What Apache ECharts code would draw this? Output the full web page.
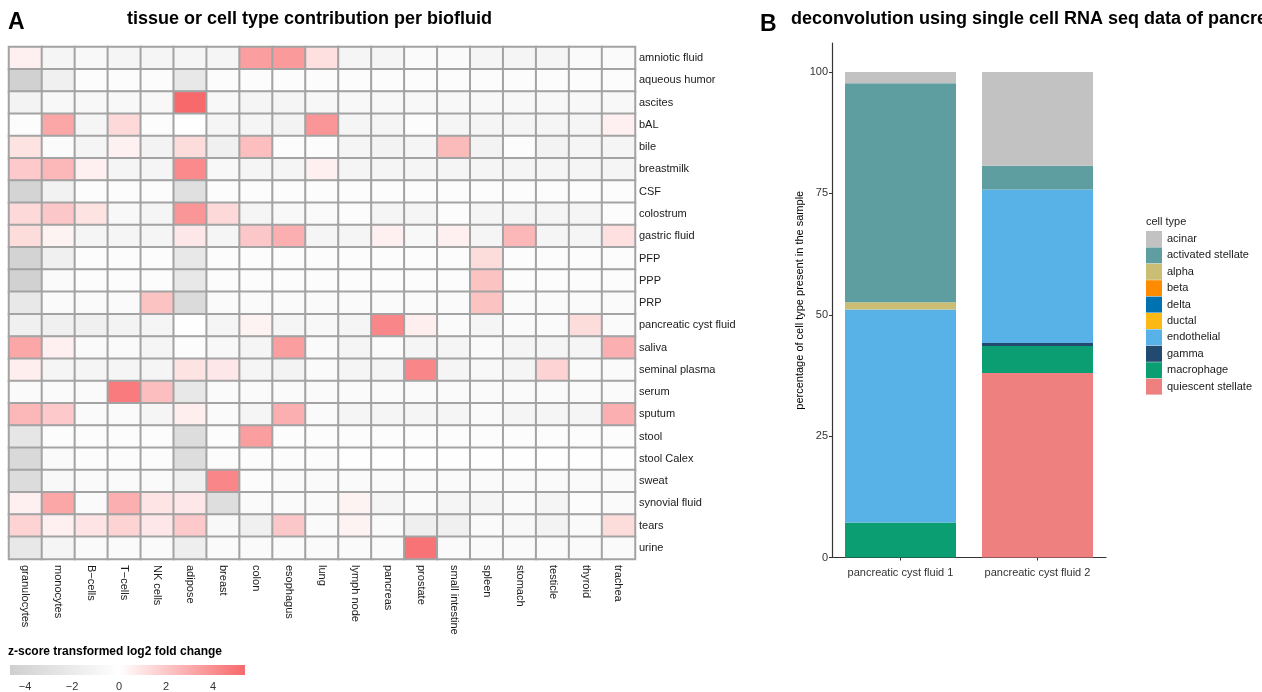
<!DOCTYPE html>
<html>
<head>
<meta charset="utf-8">
<script src="https://cdn.jsdelivr.net/npm/echarts@6/dist/echarts.min.js"></script>
<style>
  html, body { margin: 0; padding: 0; background: #fff; }
  #chart { width: 1262px; height: 692px; }
</style>
</head>
<body>
<div id="chart"></div>
<script>
// ---- Panel A: heatmap data ----
const tissues = ['granulocytes', 'monocytes', 'B\u2212cells', 'T\u2212cells', 'NK cells', 'adipose', 'breast', 'colon',
  'esophagus', 'lung', 'lymph node', 'pancreas', 'prostate', 'small intestine', 'spleen', 'stomach', 'testicle',
  'thyroid', 'trachea'];

const biofluids = ['amniotic fluid', 'aqueous humor', 'ascites', 'bAL', 'bile', 'breastmilk', 'CSF', 'colostrum',
  'gastric fluid', 'PFP', 'PPP', 'PRP', 'pancreatic cyst fluid', 'saliva', 'seminal plasma', 'serum', 'sputum',
  'stool', 'stool Calex', 'sweat', 'synovial fluid', 'tears', 'urine'];

// one row per biofluid, one value per tissue (z-score of log2 fold change)
const zScores = [
  [0.55, -0.95, -0.66, -0.95, -0.95, -0.95, -0.95, 3.45, 3.6, 1.13, -0.95, -0.95, -0.47, -0.47, -0.95, -0.95, -0.95, -0.47, -0.47],
  [-4.45, -1.5, -0.28, -0.28, -0.28, -2.18, -0.28, -0.28, -0.28, -0.28, -0.28, -0.28, -0.28, -0.28, -0.28, -0.28, -0.28, -0.28, -0.28],
  [-1.2, -0.66, -0.66, -0.66, -0.66, 5.38, -0.66, -0.95, -0.95, -0.8, -0.66, -0.66, -0.66, -0.66, -0.66, -0.66, -0.66, -0.66, -0.66],
  [-0.28, 3.16, -0.95, 1.38, -0.28, -0.1, -0.95, -0.95, -1.14, 3.75, -0.95, -0.95, -0.28, -0.95, -0.95, -0.95, -0.95, -0.95, 0.55],
  [1.0, -0.4, -0.95, 0.5, -1.14, 1.27, -1.42, 2.3, -0.28, -0.28, -0.95, -1.2, -0.95, 2.44, -1.14, -0.28, -1.14, -0.95, -0.95],
  [1.93, 2.58, 0.55, -0.95, -0.95, 4.18, -0.66, -0.95, -0.95, 0.55, -0.95, -0.95, -0.95, -0.95, -0.95, -0.95, -0.95, -0.95, -0.95],
  [-4.2, -1.3, -0.28, -0.28, -0.28, -3.0, -0.28, -0.28, -0.28, -0.28, -0.28, -0.28, -0.28, -0.28, -0.28, -0.28, -0.28, -0.28, -0.28],
  [1.38, 2.0, 1.0, -0.66, -0.95, 3.75, 1.38, -0.95, -0.66, -0.5, -0.28, -0.95, -0.95, -0.28, -0.95, -0.95, -0.95, -0.95, -0.28],
  [1.27, 0.44, -0.95, -0.95, -0.95, 0.84, -0.95, 2.0, 2.87, -0.95, -0.95, 0.55, -0.66, 0.55, -0.95, 2.58, -0.95, -0.95, 1.13],
  [-4.3, -1.42, -0.28, -0.28, -0.28, -2.18, -0.28, -0.28, -0.28, -0.28, -0.28, -0.28, -0.28, -0.28, 1.27, -0.28, -0.28, -0.28, -0.28],
  [-4.45, -0.47, -0.28, -0.28, -0.28, -2.18, -0.28, -0.28, -0.28, -0.28, -0.28, -0.28, -0.28, -0.28, 2.15, -0.28, -0.28, -0.28, -0.28],
  [-2.18, -0.47, -0.47, -0.47, 2.15, -3.5, -0.47, -0.47, -0.47, -0.47, -0.47, -0.47, -0.47, -0.47, 2.15, -0.47, -0.47, -0.47, -0.47],
  [-1.5, -1.42, -1.5, -1.14, -0.95, -0.1, -0.95, 0.44, -0.95, -0.66, -0.95, 4.33, 0.62, -0.47, -0.95, -0.47, -0.47, 1.27, -0.47],
  [3.16, 0.55, -0.47, -0.47, -0.95, -0.28, -0.66, -0.95, 3.45, -0.47, -0.95, -0.47, -0.95, -0.95, -0.47, -0.95, -0.95, -0.95, 2.87],
  [0.62, -0.95, -0.95, -0.95, -0.95, 1.0, 0.84, -0.95, -1.14, -0.47, -0.95, -0.95, 4.33, -0.95, -0.66, -0.95, 1.56, -0.47, -0.47],
  [-0.47, -0.47, -0.47, 4.73, 2.3, -2.18, -0.47, -0.47, -0.47, -0.47, -0.47, -0.47, -0.47, -0.47, -0.47, -0.47, -0.47, -0.47, -0.47],
  [2.58, 1.93, -0.47, -0.47, -0.95, 0.62, -0.47, -0.95, 2.87, -0.47, -0.95, -0.95, -0.95, -0.95, -0.47, -0.95, -0.95, -0.95, 2.87],
  [-2.46, -0.28, -0.28, -0.28, -0.28, -3.3, -0.28, 3.45, -0.28, -0.28, -0.28, -0.28, -0.28, -0.28, -0.28, -0.28, -0.28, -0.28, -0.28],
  [-3.7, -0.47, -0.28, -0.28, -0.28, -3.3, -0.28, -0.28, -0.28, -0.28, -0.15, -0.15, -0.15, -0.15, -0.15, -0.15, -0.15, -0.15, -0.15],
  [-3.4, -0.66, -0.47, -0.47, -0.47, -1.5, 4.33, -0.28, -0.47, -0.47, -0.47, -0.47, -0.47, -0.47, -0.47, -0.47, -0.47, -0.47, -0.47],
  [0.55, 3.16, -0.47, 2.87, 0.95, 0.84, -3.2, -0.47, -0.47, -0.47, 0.44, -0.95, -0.47, -0.95, -0.95, -0.47, -0.95, -0.28, -0.47],
  [1.56, 0.55, 0.95, 1.56, 0.84, 1.93, -0.66, -1.42, 2.0, -0.47, 0.44, -0.47, -1.6, -1.42, -0.47, -0.66, -1.2, -0.47, 1.27],
  [-2.18, -0.95, -0.47, -0.47, -0.47, -1.7, -0.47, -0.47, -0.47, -0.47, -0.47, -0.47, 5.0, -0.47, -0.47, -0.47, -0.47, -0.47, -0.47]
];

// ---- Panel B: stacked deconvolution bars ----
const samples = ['pancreatic cyst fluid 1', 'pancreatic cyst fluid 2'];
const cellTypes = ['acinar', 'activated stellate', 'alpha', 'beta', 'delta', 'ductal', 'endothelial', 'gamma',
  'macrophage', 'quiescent stellate'];
// percentage per cell type, one value per sample (same order as cellTypes)
const cellPercentages = [
  [2.3, 19.3],
  [45.1, 4.9],
  [1.5, 0],
  [0, 0],
  [0, 0],
  [0, 0],
  [43.9, 31.6],
  [0, 0.6],
  [7.2, 5.6],
  [0, 38.0]
];
const percentTicks = [0, 25, 50, 75, 100];

// ---- styling ----
const FONT = '"Liberation Sans", Arial, Helvetica, sans-serif';
const cellColors = ['#C2C2C2', '#5F9EA0', '#CBBE74', '#FF8C00', '#0072B2', '#FDB913', '#58B2E8', '#224A70',
  '#0B9E73', '#EF8080'];

// diverging scale: grey (low) -> white (0) -> red (high)
const zMin = -4.64, zMax = 5.36;
const lowRGB = [207, 207, 207], midRGB = [255, 255, 255], highRGB = [248, 105, 107];
function mix(a, b, t) {
  return 'rgb(' + a.map((c, i) => Math.round(c + (b[i] - c) * t)).join(',') + ')';
}
function zColor(v) {
  if (v < 0) return mix(midRGB, lowRGB, Math.min(1, v / zMin));
  return mix(midRGB, highRGB, Math.min(1, v / zMax));
}
const scaleColors = [];
for (let i = 0; i <= 200; i++) scaleColors.push(zColor(zMin + (zMax - zMin) * i / 200));
const zeroPos = -zMin / (zMax - zMin);

const heatData = [];
zScores.forEach((row, r) => row.forEach((v, c) => heatData.push([c, r, v])));

const barSeries = [];
// stack bottom-up: last cell type at the bottom
for (let i = cellTypes.length - 1; i >= 0; i--) {
  barSeries.push({
    name: cellTypes[i],
    type: 'bar',
    stack: 'total',
    xAxisIndex: 1,
    yAxisIndex: 1,
    barWidth: 111,
    itemStyle: { color: cellColors[i] },
    emphasis: { disabled: true },
    data: cellPercentages[i]
  });
}

const chart = echarts.init(document.getElementById('chart'), null, { renderer: 'canvas' });

const titleStyle = (size, weight) => ({ fontFamily: FONT, fontSize: size, fontWeight: weight, color: '#000' });

chart.setOption({
  backgroundColor: '#ffffff',
  animation: false,
  textStyle: { fontFamily: FONT },
  title: [
    { text: 'A', left: 8, top: 11, padding: 0, textStyle: titleStyle(23, 'bold') },
    { text: 'tissue or cell type contribution per biofluid', left: 127, top: 10, padding: 0,
      textStyle: titleStyle(18, 'bold') },
    { text: 'B', left: 760, top: 13, padding: 0, textStyle: titleStyle(23, 'bold') },
    { text: 'deconvolution using single cell RNA seq data of pancreas', left: 791, top: 10, padding: 0,
      textStyle: titleStyle(18, 'bold') },
    { text: 'z-score transformed log2 fold change', left: 8, top: 646, padding: 0,
      textStyle: titleStyle(12, 'bold') },
    { text: 'cell type', left: 1146, top: 216, padding: 0,
      textStyle: { fontFamily: FONT, fontSize: 11, fontWeight: 'normal', color: '#1a1a1a' } }
  ],
  grid: [
    { left: 9, top: 47, width: 626, height: 512 },
    { left: 832, top: 43, width: 274, height: 514.5 },
    { left: 25, top: 665, width: 188, height: 16 }
  ],
  xAxis: [
    {
      type: 'category', gridIndex: 0, data: tissues, position: 'bottom',
      axisLine: { show: false }, axisTick: { show: false }, splitLine: { show: false },
      axisLabel: { rotate: -90, margin: 6, fontSize: 11, color: '#1a1a1a', fontFamily: FONT, interval: 0 }
    },
    {
      type: 'category', gridIndex: 1, data: samples,
      axisLine: { show: true, lineStyle: { color: '#333', width: 1.2 } },
      axisTick: { show: true, alignWithLabel: true, length: 3, lineStyle: { color: '#333' } },
      axisLabel: { margin: 10, fontSize: 11, color: '#333', fontFamily: FONT, interval: 0, hideOverlap: false }
    },
    {
      type: 'value', gridIndex: 2, min: -4, max: 4, interval: 2,
      axisLine: { show: false }, axisTick: { show: false }, splitLine: { show: false },
      axisLabel: {
        margin: 6, fontSize: 11, color: '#333', fontFamily: FONT,
        formatter: v => (v < 0 ? '\u2212' + Math.abs(v) : String(v))
      }
    }
  ],
  yAxis: [
    {
      type: 'category', gridIndex: 0, data: biofluids, inverse: true, position: 'right',
      axisLine: { show: false }, axisTick: { show: false }, splitLine: { show: false },
      axisLabel: { margin: 4, fontSize: 11, color: '#1a1a1a', fontFamily: FONT, interval: 0 }
    },
    {
      type: 'value', gridIndex: 1, min: 0, max: 106, interval: 25,
      name: 'percentage of cell type present in the sample', nameLocation: 'middle', nameGap: 27, nameRotate: 90,
      nameTextStyle: { fontSize: 11, color: '#000', fontFamily: FONT },
      axisLine: { show: true, lineStyle: { color: '#333', width: 1.2 } },
      axisTick: { show: true, length: 3, lineStyle: { color: '#333' } },
      splitLine: { show: false },
      axisLabel: {
        margin: 4, fontSize: 11, color: '#333', fontFamily: FONT, showMaxLabel: false,
        formatter: v => (percentTicks.indexOf(v) >= 0 ? String(v) : '')
      }
    },
    {
      type: 'value', gridIndex: 2, min: 0, max: 1, show: false
    }
  ],
  visualMap: {
    show: false, seriesIndex: 0, min: zMin, max: zMax, calculable: false,
    inRange: { color: scaleColors }
  },
  legend: {
    data: cellTypes,
    orient: 'vertical', left: 1146, top: 231, padding: 0,
    icon: 'rect', itemWidth: 16, itemHeight: 16, itemGap: 0.4,
    selectedMode: false,
    textStyle: { fontSize: 11, color: '#1a1a1a', fontFamily: FONT }
  },
  series: [
    {
      type: 'heatmap', xAxisIndex: 0, yAxisIndex: 0, data: heatData,
      itemStyle: { borderColor: '#a3a3a3', borderWidth: 2 },
      emphasis: { disabled: true }
    },
    ...barSeries,
    {
      type: 'custom', xAxisIndex: 2, yAxisIndex: 2, data: [[0, 0]], silent: true, clip: false,
      renderItem: function (params, api) {
        const p0 = api.coord([zMin, 1]);
        const p1 = api.coord([zMax, 0]);
        return {
          type: 'rect',
          shape: { x: p0[0], y: p0[1], width: p1[0] - p0[0], height: p1[1] - p0[1] },
          style: {
            fill: new echarts.graphic.LinearGradient(0, 0, 1, 0, [
              { offset: 0, color: zColor(zMin) },
              { offset: zeroPos, color: zColor(0) },
              { offset: 1, color: zColor(zMax) }
            ])
          }
        };
      }
    }
  ]
});
</script>
</body>
</html>
